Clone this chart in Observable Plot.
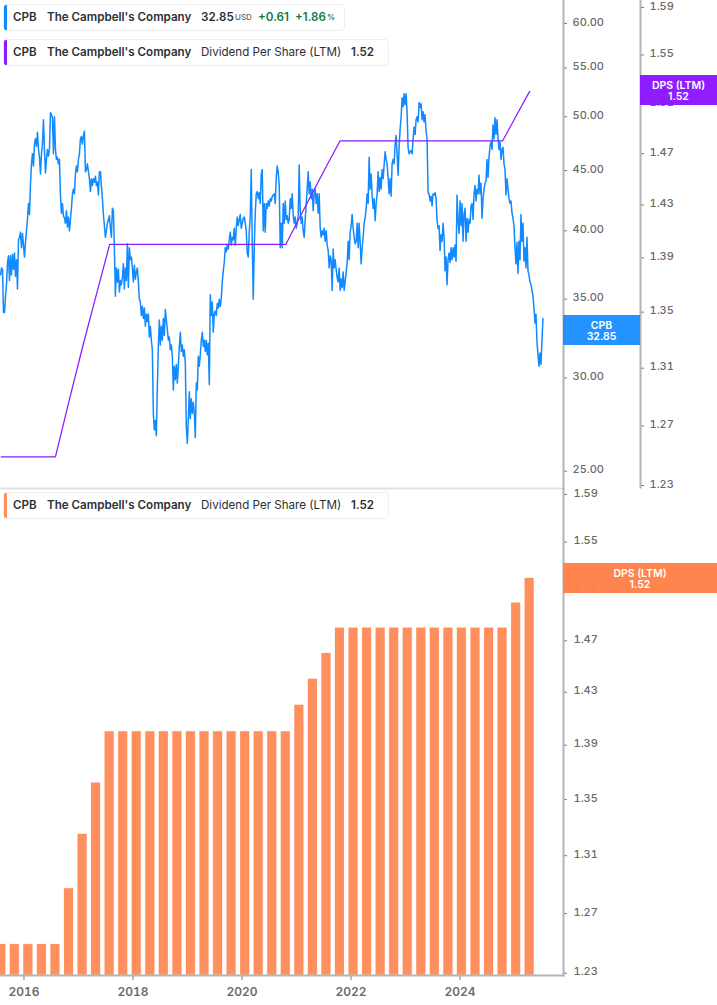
<!DOCTYPE html>
<html>
<head>
<meta charset="utf-8">
<script src="https://cdn.jsdelivr.net/npm/d3@7"></script>
<script src="https://cdn.jsdelivr.net/npm/@observablehq/plot@0.6"></script>
<style>
html,body{margin:0;padding:0;background:#fff;font-family:Inter,sans-serif}
#root{position:relative;width:717px;height:1005px;overflow:hidden}
.box{position:absolute;left:3px;height:25px;background:#fff;border:1px solid #eeeeee;border-radius:4px;box-sizing:content-box;font-size:11.6px;font-weight:600;color:#2b2f36;line-height:25px;white-space:nowrap;z-index:5}
.box i{position:absolute;left:0;top:0;bottom:0;width:3px;border-radius:2px 0 0 2px}
.box span{position:absolute;top:0}
.tag{position:absolute;color:#fff;text-align:center;font-size:10.5px;font-weight:600;line-height:11px;box-sizing:border-box;padding-top:4.5px;z-index:6}
</style>
</head>
<body>
<div id="root"></div>
<script>
const priceTicks=[25,30,35,40,45,50,55,60];
const dpsTicks=[1.23,1.27,1.31,1.35,1.39,1.43,1.47,1.51,1.55,1.59];
const yearTicks=[2016,2018,2020,2022,2024];
const dpsYears=[2015.583,2015.832,2016.08,2016.329,2016.577,2016.826,2017.075,2017.323,2017.572,2017.82,2018.069,2018.318,2018.566,2018.815,2019.063,2019.312,2019.561,2019.809,2020.058,2020.306,2020.555,2020.804,2021.052,2021.301,2021.549,2021.798,2022.047,2022.295,2022.544,2022.792,2023.041,2023.29,2023.538,2023.787,2024.035,2024.284,2024.533,2024.781,2025.03,2025.278];
const dpsValues=[1.249,1.249,1.249,1.249,1.249,1.287,1.325,1.362,1.40,1.40,1.40,1.40,1.40,1.40,1.40,1.40,1.40,1.40,1.40,1.40,1.40,1.40,1.42,1.44,1.46,1.48,1.48,1.48,1.48,1.48,1.48,1.48,1.48,1.48,1.48,1.48,1.48,1.48,1.50,1.52];
const priceStartYear=2015.569;
const priceStepYears=0.01833;
const priceValues=[
36.7,37.2,37.1,34.1,34.1,35.2,36,37.6,38.1,36.3,
38.1,36.7,38.2,37.1,38.3,36.6,37.8,35.7,39.3,39.5,
39.9,38.7,39.8,38.9,38,39.1,40,40.9,42.2,41.3,
43.8,45.6,46.5,45.4,47.4,47.9,47.2,48.5,46.9,46.2,
44.7,46.5,47.4,49.7,46.9,44.8,46,46.9,46.3,46.9,
50.4,50.2,49.9,46.5,50,46.9,46,46.2,45.6,46,
42.9,41.4,42.2,41.2,41,40.6,41.6,40.3,41.1,40,
40.9,41.8,43,43.4,43,44.7,45.4,44.9,46,46.5,
47.9,48.1,47.4,48.2,48.6,44.9,45.1,45.6,44.9,44.3,
43.2,44.3,43.7,44.3,44,44.5,43.7,44,42.9,44.9,
44.9,43.7,42.6,41.3,40.4,39.5,40,40.6,40.9,41.2,
40.2,39.5,41.8,41.6,38.7,35.2,37.2,36.2,37.1,35.5,
36.3,36,36.5,37.5,35.7,37.2,36.3,39,35.8,38.7,
37.8,38,37.2,36.2,37.4,36.4,36.9,37.2,36.2,35,
34.8,33.9,34.5,33.7,34.4,33.2,34,33.5,34,32.5,
33.2,32.3,31.7,28,27.1,27.6,26.8,29.5,31.9,33.6,
32,33.2,32.3,33.7,32.6,34.3,33.6,33,32.3,32.5,
31.7,32,31.3,29.3,30.7,29.9,30.8,29.7,30.7,31.9,
32.8,31.6,32,31.3,31.7,30.9,27.3,26.4,27.7,29.2,
27.7,28.8,28,28.6,28,26.7,29.7,29.3,31.3,30.7,
31.4,32.3,32.8,31.9,32.3,31.6,32.3,31.4,32.1,29.6,
35.3,33.9,34.8,32.8,34,34.2,33.9,34.7,34.4,35,
34.5,35,36.2,37,37.6,38.7,38.4,38.9,38.6,39.3,
39.9,38.9,39.5,39.3,40.2,38.9,40.2,41.1,40.4,40.9,
41.3,40.2,40.6,41,41.1,40.6,40,38.3,38,39.9,
41.2,45.1,39.1,35,38.7,41.4,43,43.2,42.6,43.1,
42.2,44.7,45.1,40,42.2,39.9,42.2,41.8,42.4,42,
42.6,42.4,42.8,42.9,43,42.2,44.3,45.4,44.9,43.7,
38.7,40.6,38.7,42.2,40.6,42.4,40.9,41.2,40.6,40.9,
42.6,41.8,43,41.2,40.6,41.1,40.2,40.6,41.2,45.5,
41.6,40.6,41.1,40,39.5,40.9,42.2,43.4,44.9,43,
44,42.6,43.4,41.6,43,43.4,42.2,43,41.4,43,
40.2,39.5,40,39.7,40.2,39.2,40,38.9,38.5,37.2,
38.1,37.8,35.6,38.6,37.2,37.8,37.1,36.5,36.2,37.2,
35.6,36.4,35.8,36.9,35.6,36.2,36.9,37.6,39.2,37.8,
39.9,40.4,41.3,40.2,39.5,39,39.2,40.6,38.7,40.6,
39.1,37.5,38.7,39.5,40.6,41,41.8,43,42.2,46.2,
43.4,44.7,42.9,41.8,42.6,40.8,42.2,43,44.9,43.2,
44.4,43.4,45.1,44.3,45.5,46.7,46,45.6,44.4,43,
44.3,42.8,45.6,46,45.6,47.4,48.2,46.5,44.6,47.1,
48.8,49.9,51.9,51,52.3,51.2,52.3,50.4,47.1,46.5,
46.7,46.8,46.5,47.9,49,48.3,49.7,50,49.5,51.4,
50.9,51.3,49.7,50.5,49.5,50.2,48.6,47.9,43.1,43,
42.4,42.8,42,43,42.9,43.1,42.6,40.8,40.2,40.4,
38.5,39.7,39.2,40.6,39.5,37,38,36,37.8,38.3,
37.6,38.7,37.8,38.7,38,38.9,37.7,42.9,40.8,39.8,
42.4,40.4,42.2,39.2,41.3,41.8,39.2,41,39.9,40.9,
40.6,42,42.2,40.9,43,43.7,42.4,43.4,43,44.6,
43,43.9,41,42.6,43.4,43.9,44.1,46,44.4,46.2,
47.2,47.6,46.9,49.2,47.9,49.9,48.3,49.7,48,46.9,
47.6,46,46.9,47.1,45.6,45.1,42.9,44.3,43.4,42.6,
42.2,42.4,41.4,41,40.4,38.7,37.5,39.1,36.8,39.2,
37.8,41.3,39.2,40.6,37.7,38.7,37.2,39.5,37,36.7,
36.2,36,35.6,35.2,34.4,33.4,34,32.2,31.4,30.7,
31.5,30.8,32.3,33.7
];
const priceLast=32.85, dpsLast=1.52;
const blue="#1189ff", purple="#8a1cff", orange="#ff8f5c";
const axisGray="#b4b4b4", textGray="#6a6a6a";
const pricePts=priceValues.map((v,i)=>({year:priceStartYear+i*priceStepYears,v}));
const dpsPts=dpsYears.map((year,i)=>({year,v:dpsValues[i]}));
const barHalf=0.0825;
const fonts={fontFamily:"Inter, sans-serif",fontSize:11};
function rightAxis(ticks,fmt,pad){
  return [
    Plot.axisY(ticks,{anchor:"right",tickSize:3,stroke:"#777",text:null,label:null}),
    Plot.axisY(ticks,{anchor:"right",tickSize:0,tickPadding:pad,tickFormat:fmt,fill:textGray,dy:-1.5,label:null,fontWeight:500})
  ];
}
const base={width:717,marginLeft:0,marginTop:0,style:{...fonts,background:"transparent",overflow:"visible"}};
// price pane
const pricePlot=Plot.plot({...base,height:488,marginRight:154,marginBottom:0,
  x:{type:"linear",domain:[2015.569,2025.899],range:[0,563],axis:null},
  y:{type:"log",domain:[25,60],range:[470.7,23]},
  marks:[
    Plot.line(pricePts,{x:"year",y:"v",stroke:blue,strokeWidth:1.5}),
    ...rightAxis(priceTicks,d=>d.toFixed(2),9),
    Plot.frame({anchor:"right",stroke:axisGray,strokeWidth:2}),
    Plot.frame({anchor:"bottom",stroke:"#e2e2e2",strokeWidth:2})
  ]});
// dividend line, same time axis, further right scale
const linePlot=Plot.plot({...base,height:487,marginRight:77,marginBottom:0,
  x:{type:"linear",domain:[2015.569,2027.312],range:[0,640],axis:null},
  y:{type:"log",domain:[1.23,1.59],range:[485,7]},
  marks:[
    Plot.line(dpsPts,{x:"year",y:"v",stroke:purple,strokeWidth:1.25}),
    ...rightAxis(dpsTicks,d=>d.toFixed(2),9),
    Plot.frame({anchor:"right",stroke:axisGray,strokeWidth:2})
  ]});
// dividend bars
const barPlot=Plot.plot({...base,height:517,marginRight:154,marginBottom:30,
  x:{type:"linear",domain:[2015.569,2025.899],range:[0,563]},
  y:{type:"log",domain:[1.23,1.59],range:[484.7,6]},
  marks:[
    Plot.rectY(dpsPts,{x1:d=>d.year-barHalf,x2:d=>d.year+barHalf,y1:1.2287,y2:"v",fill:orange,stroke:"#ff7f47",strokeOpacity:0.18,strokeWidth:1}),
    ...rightAxis(dpsTicks,d=>d.toFixed(2),10),
    Plot.axisX(yearTicks,{anchor:"bottom",tickSize:5,stroke:"#777",tickPadding:7,tickFormat:d=>String(d),fill:textGray,fontWeight:600,fontSize:12,label:null}),
    Plot.frame({anchor:"right",stroke:axisGray,strokeWidth:2}),
    Plot.frame({anchor:"bottom",stroke:axisGray,strokeWidth:2})
  ]});
const root=document.getElementById("root");
[[pricePlot,0],[linePlot,0],[barPlot,488]].forEach(([p,top])=>{p.style.position="absolute";p.style.left="0";p.style.top=top+"px";root.appendChild(p);});
function legend(top,w,color,parts){
  const b=document.createElement("div");b.className="box";b.style.top=top+"px";b.style.width=w+"px";
  const i=document.createElement("i");i.style.background=color;b.appendChild(i);
  parts.forEach(([x,t,st])=>{const s=document.createElement("span");s.style.left=(x-4)+"px";s.textContent=t;if(st)s.style.cssText+=st;b.appendChild(s);});
  root.appendChild(b);
}
const company="The Campbell's Company";
const metric="Dividend Per Share (LTM)";
legend(4,340,blue,[[13,"CPB"],[47,company],[201,priceLast.toFixed(2)],[235,"USD","font-size:8px;font-weight:500;color:#666"],[258,"+0.61","color:#0e7c45"],[295,"+1.86","color:#0e7c45"],[327,"%","font-size:8px;color:#0e7c45"]]);
legend(39,384,purple,[[13,"CPB"],[47,company],[201,metric,"font-weight:400"],[351,dpsLast.toFixed(2)]]);
legend(492,384,orange,[[13,"CPB"],[47,company],[201,metric,"font-weight:400"],[351,dpsLast.toFixed(2)]]);
function tag(left,w,top,color,a,b){
  const d=document.createElement("div");d.className="tag";
  d.style.cssText=`left:${left}px;top:${top}px;width:${w}px;height:30px;background:${color}`;
  const x=document.createElement("div");x.textContent=a;const y=document.createElement("div");y.textContent=b;d.append(x,y);root.appendChild(d);
}
tag(563,77,315,"rgba(30,144,255,.97)","CPB",priceLast.toFixed(2));
tag(640,77,75,"rgba(138,20,255,.96)","DPS (LTM)",dpsLast.toFixed(2));
tag(563,154,563,"rgba(255,127,71,.96)","DPS (LTM)",dpsLast.toFixed(2));
</script>
</body>
</html>
